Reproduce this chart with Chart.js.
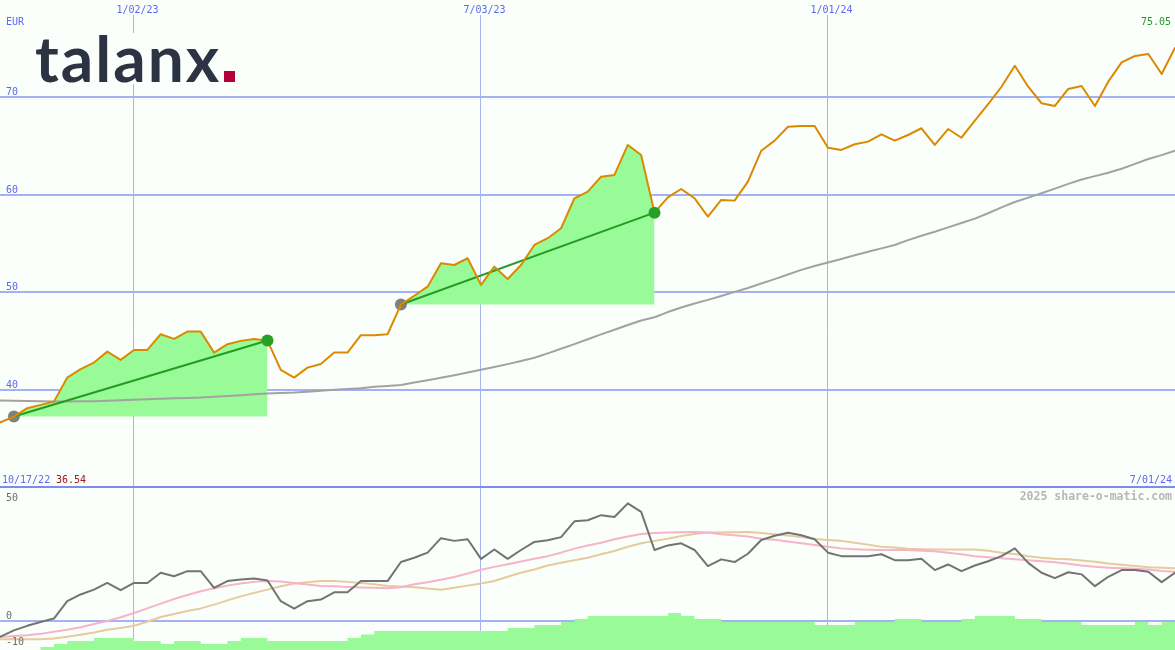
<!DOCTYPE html>
<html><head><meta charset="utf-8">
<script src="https://cdn.jsdelivr.net/npm/chart.js@4.4.1/dist/chart.umd.min.js"></script>
<style>
html,body{margin:0;padding:0;background:#fbfffb;}
#wrap{position:relative;width:1175px;height:650px;background:#fbfffb;}
canvas{display:block;}
</style></head><body>
<div id="wrap"><canvas id="c" width="1175" height="650"></canvas></div>
<script>
// ---- data (weekly, first point = 10/17/22) ----
const startDate = '2022-10-17';
const endDate = '2024-07-01';
const price = [36.54, 36.70, 37.28, 38.14, 38.48, 38.81, 41.27, 42.13, 42.81, 43.93,
 43.08, 44.10, 44.10, 45.71, 45.23, 45.98, 45.98, 43.83, 44.69, 45.03,
 45.23, 45.06, 42.06, 41.27, 42.29, 42.67, 43.83, 43.83, 45.61, 45.61,
 45.71, 48.75, 49.65, 50.58, 52.98, 52.80, 53.49, 50.76, 52.63, 51.37,
 52.80, 54.85, 55.54, 56.56, 59.63, 60.31, 61.84, 62.02, 65.09, 64.06,
 58.16, 59.73, 60.58, 59.63, 57.75, 59.46, 59.39, 61.33, 64.50, 65.53,
 66.96, 67.03, 67.03, 64.81, 64.58, 65.16, 65.43, 66.18, 65.53, 66.11,
 66.80, 65.09, 66.72, 65.83, 67.57, 69.28, 71.05, 73.20, 71.05, 69.36,
 69.08, 70.82, 71.13, 69.08, 71.57, 73.55, 74.20, 74.40, 72.35, 75.05];
const movingAvg = [38.95, 38.93, 38.90, 38.87, 38.85, 38.83, 38.83, 38.84, 38.86, 38.90,
 38.95, 39.00, 39.05, 39.10, 39.15, 39.18, 39.22, 39.30, 39.38, 39.47,
 39.56, 39.65, 39.70, 39.74, 39.82, 39.92, 40.03, 40.10, 40.18, 40.33,
 40.42, 40.52, 40.77, 41.00, 41.25, 41.52, 41.80, 42.08, 42.36, 42.65,
 42.97, 43.30, 43.75, 44.23, 44.70, 45.20, 45.70, 46.17, 46.65, 47.12,
 47.45, 47.98, 48.45, 48.85, 49.23, 49.63, 50.05, 50.45, 50.90, 51.35,
 51.83, 52.30, 52.70, 53.05, 53.42, 53.80, 54.15, 54.50, 54.85, 55.35,
 55.80, 56.20, 56.65, 57.10, 57.55, 58.10, 58.70, 59.25, 59.70, 60.15,
 60.62, 61.10, 61.55, 61.90, 62.25, 62.65, 63.15, 63.65, 64.05, 64.50];
const momentum = [-7.5, -5.8, -3.5, -1.8, -0.4, 0.9, 7.4, 9.9, 11.7, 14.2,
 11.5, 14.2, 14.2, 18.0, 16.7, 18.6, 18.6, 12.4, 14.9, 15.5,
 15.9, 15.1, 7.4, 4.6, 7.4, 8.0, 10.7, 10.7, 14.9, 14.9,
 14.9, 22.0, 23.6, 25.5, 30.9, 29.9, 30.5, 23.2, 26.7, 23.2,
 26.5, 29.5, 30.1, 31.3, 37.2, 37.6, 39.5, 38.8, 43.9, 40.7,
 26.5, 28.2, 29.0, 26.5, 20.5, 23.0, 22.0, 25.1, 30.2, 31.8,
 32.9, 32.0, 30.5, 25.5, 24.2, 24.2, 24.2, 24.9, 22.7, 22.7,
 23.2, 19.0, 21.1, 18.6, 20.7, 22.3, 24.2, 27.1, 21.7, 18.0,
 16.0, 18.2, 17.4, 13.0, 16.5, 19.0, 19.0, 18.4, 14.5, 18.0];
const momentumFast = [-6.2, -6.0, -5.6, -5.3, -4.8, -4.0, -3.3, -2.3, -1.1, 0.0,
 1.4, 3.0, 4.7, 6.5, 8.2, 9.7, 11.1, 12.2, 13.2, 14.0,
 14.6, 14.9, 14.7, 14.2, 13.6, 13.1, 13.0, 12.7, 12.5, 12.4,
 12.2, 12.6, 13.7, 14.5, 15.4, 16.4, 17.7, 19.1, 20.2, 21.2,
 22.2, 23.2, 24.2, 25.5, 27.0, 28.2, 29.2, 30.5, 31.5, 32.5,
 32.8, 33.0, 33.1, 33.2, 33.0, 32.4, 32.0, 31.5, 30.7, 30.3,
 29.7, 29.0, 28.4, 27.7, 27.1, 26.8, 26.6, 26.5, 26.5, 26.5,
 26.2, 26.0, 25.5, 24.9, 24.2, 23.8, 23.4, 23.0, 22.7, 22.3,
 21.9, 21.4, 20.7, 20.2, 19.9, 19.7, 19.5, 19.2, 18.7, 18.4];
const momentumSlow = [-6.8, -6.8, -6.8, -6.8, -6.8, -6.5, -5.9, -5.1, -4.3, -3.3,
 -2.6, -1.8, -0.3, 1.5, 2.6, 3.7, 4.7, 6.1, 7.7, 9.2,
 10.5, 11.7, 13.0, 14.0, 14.5, 14.9, 14.9, 14.6, 14.2, 13.7,
 13.1, 12.9, 12.6, 12.1, 11.7, 12.4, 13.2, 14.0, 14.9, 16.5,
 18.0, 19.2, 20.7, 21.7, 22.7, 23.6, 24.9, 26.1, 27.7, 29.0,
 29.9, 30.7, 31.7, 32.5, 33.0, 33.0, 33.1, 33.2, 32.8, 32.4,
 31.9, 31.3, 30.6, 30.2, 29.9, 29.2, 28.5, 27.7, 27.4, 27.0,
 26.8, 26.7, 26.7, 26.7, 26.7, 26.2, 25.5, 25.0, 24.2, 23.6,
 23.2, 23.0, 22.6, 22.1, 21.5, 21.0, 20.5, 20.1, 19.9, 19.7];
const histogram = [-9.4, -9.4, -9.4, -9.4, -9.4, -8.3, -7.3, -6.3, -6.3, -5.3,
 -5.3, -5.3, -6.3, -6.3, -7.3, -6.3, -6.3, -7.3, -7.3, -6.3,
 -5.3, -5.3, -6.3, -6.3, -6.3, -6.3, -6.3, -6.3, -5.3, -4.2,
 -3, -3, -3, -3, -3, -3, -3, -3, -3, -3,
 -2, -2, -1, -1, 0, 1, 2, 2, 2, 2,
 2, 2, 3, 2, 1, 1, 0, 0, 0, 0,
 0, 0, 0, -1, -1, -1, 0, 0, 0, 1,
 1, 0, 0, 0, 1, 2, 2, 2, 1, 1,
 0, 0, 0, -1, -1, -1, -1, 0, -1, 0];
const swingStart = [2, 31];
const swingEnd = [21, 50];
const xTickDates = ['2023-01-02', '2023-07-03', '2024-01-01'];
const xTickLabels = ['1/02/23', '7/03/23', '1/01/24'];
const priceTicks = [40, 50, 60, 70];
const oscTicks = [50, 0, -10];
const firstLabel = '10/17/22', firstPrice = '36.54';
const lastLabel = '7/01/24', lastPrice = '75.05';
const currency = 'EUR';
const credit = '2025 share-o-matic.com';

// ---- helpers ----
const BG = '#fbfffb';
const BLUE = '#5b68f0';
const dayOf = s => Math.round((Date.parse(s + 'T00:00:00Z') - Date.parse(startDate + 'T00:00:00Z')) / 864e5);
const xs = price.map((_, i) => 7 * i);
const pts = arr => arr.map((v, i) => ({x: xs[i], y: v}));
const seg = (a, b) => price.slice(a, b + 1).map((v, k) => ({x: xs[a + k], y: v}));

const datasets = [];
datasets.push({label: 'price', data: pts(price), yAxisID: 'y', borderColor: '#db8a00', borderWidth: 2, order: 1});
datasets.push({label: 'avg', data: pts(movingAvg), yAxisID: 'y', borderColor: '#a2a2a2', borderWidth: 2, order: 4});
swingStart.forEach((s, k) => {
  const e = swingEnd[k];
  datasets.push({label: 'fill' + k, data: seg(s, e), yAxisID: 'y', borderWidth: 0, borderColor: 'rgba(0,0,0,0)',
    backgroundColor: '#98fb98', fill: {value: price[s]}, order: 5});
  datasets.push({label: 'trend' + k, data: [{x: xs[s], y: price[s]}, {x: xs[e], y: price[e]}], yAxisID: 'y',
    borderColor: '#229c22', borderWidth: 2, order: 2});
});
datasets.push({label: 'startDots', data: swingStart.map(s => ({x: xs[s], y: price[s]})), yAxisID: 'y', showLine: false,
  pointRadius: 6, pointBackgroundColor: '#808080', pointBorderWidth: 0, order: 3});
datasets.push({label: 'endDots', data: swingEnd.map(s => ({x: xs[s], y: price[s]})), yAxisID: 'y', showLine: false,
  pointRadius: 6, pointBackgroundColor: '#28a028', pointBorderWidth: 0, order: 0});
datasets.push({label: 'mom', data: pts(momentum), yAxisID: 'y2', borderColor: '#737373', borderWidth: 2, order: 6});
datasets.push({label: 'momFast', data: pts(momentumFast), yAxisID: 'y2', borderColor: '#f7b3c8', borderWidth: 2, order: 7});
datasets.push({label: 'momSlow', data: pts(momentumSlow), yAxisID: 'y2', borderColor: '#e5cb9d', borderWidth: 2, order: 8});
datasets.push({label: 'hist', data: pts(histogram), yAxisID: 'yh', stepped: 'after', borderWidth: 0, borderColor: 'rgba(0,0,0,0)',
  backgroundColor: '#98fb98', fill: 'start', order: 9});

const ticksFrom = vals => s => { s.ticks = vals.map(v => ({value: v})); };

const textPlugin = {
  id: 'texts',
  afterDraw(chart) {
    const {ctx, scales: {x, y, y2}} = chart;
    ctx.save();
    // logo
    ctx.fillStyle = BG;
    ctx.fillRect(32, 33, 206, 51);
    ctx.font = '700 64px Lato';
    ctx.fillStyle = '#2c3444';
    ctx.textAlign = 'left';
    ctx.textBaseline = 'alphabetic';
    if ('letterSpacing' in ctx) ctx.letterSpacing = '2px';
    ctx.fillText('talanx', 35, 82);
    if ('letterSpacing' in ctx) ctx.letterSpacing = '0px';
    ctx.fillStyle = '#b5003b';
    ctx.fillRect(224, 71, 11, 11);

    ctx.font = '10px "DejaVu Sans Mono"';
    ctx.fillStyle = BLUE;
    ctx.fillText(currency, 6, 25);
    priceTicks.forEach(v => ctx.fillText(String(v), 6, Math.round(y.getPixelForValue(v)) - 2));
    ctx.textAlign = 'center';
    xTickDates.forEach((d, i) => ctx.fillText(xTickLabels[i], x.getPixelForValue(dayOf(d)) + 3.5, 12.5));
    ctx.textAlign = 'left';
    ctx.fillText(firstLabel, 2, 483);
    ctx.fillStyle = '#a01818';
    ctx.fillText(firstPrice, 56, 483);
    ctx.textAlign = 'right';
    ctx.fillStyle = BLUE;
    ctx.fillText(lastLabel, 1172, 483);
    ctx.fillStyle = '#229922';
    ctx.fillText(lastPrice, 1171, 25);

    ctx.fillStyle = '#6c6c6c';
    ctx.textAlign = 'left';
    oscTicks.forEach(v => {
      const p = y2.getPixelForValue(v);
      ctx.fillText(String(v), 6, v === 50 ? p + 14 : p - 2.5);
    });
    ctx.textAlign = 'right';
    ctx.font = 'bold 11.5px "DejaVu Sans Mono"';
    ctx.fillStyle = '#b7b7b7';
    ctx.fillText(credit, 1172, 500);
    ctx.restore();
  }
};

const chart = new Chart(document.getElementById('c'), {
  type: 'line',
  data: {datasets},
  options: {
    responsive: false,
    animation: false,
    events: [],
    layout: {padding: 0, autoPadding: false},
    elements: {point: {radius: 0}, line: {tension: 0, borderCapStyle: 'round', borderJoinStyle: 'round'}},
    plugins: {legend: {display: false}, tooltip: {enabled: false}},
    scales: {
      x: {type: 'linear', position: 'top', min: 6.72, max: dayOf(endDate),
        afterBuildTicks: ticksFrom(xTickDates.map(dayOf)),
        afterFit: s => { s.height = 15; },
        ticks: {display: false}, border: {display: false},
        grid: {color: '#a9b3f3', lineWidth: 1, drawTicks: false}},
      y: {type: 'linear', position: 'left', min: 13.379, max: 78.396,
        afterBuildTicks: ticksFrom(priceTicks),
        afterFit: s => { s.width = 0; },
        ticks: {display: false}, border: {display: false},
        grid: {color: '#a4b1f3', lineWidth: 2, drawTicks: false}},
      y2: {type: 'linear', position: 'left', min: -10.82, max: 226.12,
        afterBuildTicks: ticksFrom([0, 50]),
        afterFit: s => { s.width = 0; },
        ticks: {display: false}, border: {display: false},
        grid: {color: c => c.tick && c.tick.value === 50 ? '#7d8bef' : '#a4b1f3', lineWidth: 2, drawTicks: false}},
      yh: {type: 'linear', display: false, min: -9.33, max: 202.33}
    }
  },
  plugins: [textPlugin]
});
Promise.all([
  document.fonts.load('700 64px Lato'),
  document.fonts.load('10px "DejaVu Sans Mono"'),
  document.fonts.load('bold 11px "DejaVu Sans Mono"')
]).then(() => chart.draw()).catch(() => {});
</script>
</body></html>
